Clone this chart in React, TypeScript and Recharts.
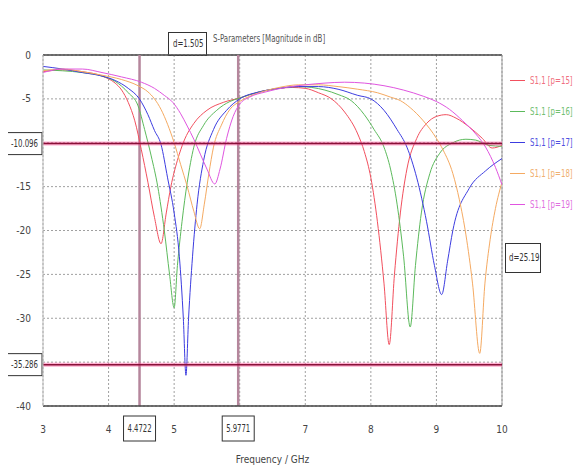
import React from 'react';
import { LineChart, Line, XAxis, YAxis, CartesianGrid, ReferenceLine } from 'recharts';

// frequency (GHz) / magnitude (dB) per sweep value
const redFreq = [3.0, 3.3, 3.6, 3.9, 4.1, 4.2, 4.3, 4.4, 4.5, 4.6, 4.7, 4.8, 4.88, 4.95, 5.05, 5.15, 5.3, 5.5, 5.75, 6.0, 6.3, 6.6, 6.8, 7.0, 7.2, 7.4, 7.6, 7.8, 7.9, 8.0, 8.1, 8.2, 8.28, 8.36, 8.45, 8.55, 8.7, 8.85, 9.0, 9.15, 9.3, 9.5, 9.7, 9.85, 10.0];
const redDb = [-1.9, -1.7, -1.9, -2.4, -3.2, -4.0, -5.4, -7.5, -10.8, -14.5, -18.5, -21.5, -18, -15, -12, -9.8, -7.8, -6.3, -5.4, -4.9, -4.2, -3.8, -3.7, -3.8, -4.3, -5.0, -6.5, -9.0, -11, -14, -19, -26, -33, -25, -18, -13, -9.5, -7.8, -7.0, -6.8, -7.2, -8.2, -9.5, -10.6, -10.3];

const greenFreq = [3.0, 3.3, 3.6, 3.9, 4.1, 4.3, 4.45, 4.55, 4.65, 4.75, 4.85, 4.93, 5.0, 5.05, 5.12, 5.2, 5.3, 5.45, 5.65, 5.85, 6.0, 6.3, 6.6, 6.9, 7.1, 7.3, 7.5, 7.7, 7.9, 8.05, 8.2, 8.3, 8.4, 8.5, 8.6, 8.68, 8.77, 8.9, 9.05, 9.25, 9.45, 9.6, 9.8, 10.0];
const greenDb = [-1.7, -1.8, -2.0, -2.4, -3.0, -4.3, -5.8, -8.5, -11.5, -15, -20, -25, -28.8, -24, -19, -14.5, -10.5, -8, -6.3, -5.3, -4.9, -4.2, -3.8, -3.6, -3.7, -4.0, -4.5, -5.2, -6.8, -8.5, -10.5, -13, -17, -23, -31, -24, -18, -13.5, -11.2, -10.0, -9.6, -9.7, -10.3, -10.4];

const blueFreq = [3.0, 3.3, 3.6, 3.9, 4.1, 4.3, 4.47, 4.6, 4.7, 4.8, 4.9, 5.0, 5.08, 5.14, 5.18, 5.22, 5.28, 5.35, 5.45, 5.6, 5.8, 6.0, 6.3, 6.6, 6.9, 7.2, 7.5, 7.8, 8.0, 8.2, 8.4, 8.55, 8.7, 8.85, 8.97, 9.08, 9.17, 9.25, 9.5, 9.75, 10.0];
const blueDb = [-1.3, -1.6, -2.0, -2.4, -2.9, -3.8, -5.0, -6.8, -8.6, -10.2, -14, -18, -23, -30, -36.5, -30, -23, -17, -12, -8.5, -6.3, -5.0, -4.2, -3.8, -3.6, -3.6, -3.9, -4.6, -5.0, -6.3, -8.5, -10.5, -14, -19, -24, -27.3, -23.5, -20, -15.2, -13.2, -11.8];

const orangeFreq = [3.0, 3.3, 3.6, 3.9, 4.2, 4.45, 4.6, 4.7, 4.8, 4.9, 5.0, 5.1, 5.2, 5.3, 5.39, 5.46, 5.53, 5.6, 5.72, 5.85, 6.0, 6.3, 6.6, 6.9, 7.2, 7.5, 7.8, 8.1, 8.3, 8.45, 8.6, 8.8, 9.0, 9.1, 9.25, 9.35, 9.45, 9.55, 9.66, 9.74, 9.82, 9.9, 10.0];
const orangeDb = [-1.8, -1.6, -1.9, -2.3, -2.8, -3.5, -4.2, -5.0, -6.2, -7.9, -10.0, -12.5, -15, -17.8, -19.8, -17, -13.5, -10.5, -8.0, -6.2, -5.3, -4.3, -3.7, -3.4, -3.4, -3.6, -3.9, -4.3, -4.8, -5.2, -6, -7.5, -9.5, -10.8, -13.5, -16.5, -20.5, -26, -34, -26, -21, -17.5, -14.5];

const magentaFreq = [3.0, 3.3, 3.6, 3.9, 4.2, 4.5, 4.7, 4.85, 4.98, 5.1, 5.2, 5.3, 5.4, 5.5, 5.62, 5.7, 5.8, 5.9, 6.0, 6.15, 6.4, 6.7, 7.0, 7.3, 7.6, 7.9, 8.2, 8.5, 8.8, 9.0, 9.2, 9.4, 9.6, 9.75, 9.9, 10.0];
const magentaDb = [-2.0, -1.6, -1.6, -2.0, -2.5, -3.1, -3.8, -4.6, -5.4, -6.7, -8.1, -9.6, -11.3, -13.0, -14.7, -13.0, -9.5, -7.0, -5.6, -4.8, -4.2, -3.7, -3.4, -3.2, -3.1, -3.2, -3.5, -4.0, -4.7, -5.3, -6.2, -7.5, -9.0, -10.5, -12.8, -14.8];

const seriesNames = ['S1,1 [p=15]', 'S1,1 [p=16]', 'S1,1 [p=17]', 'S1,1 [p=18]', 'S1,1 [p=19]'];
const seriesColors = ['#f2505e', '#5cba5c', '#3c3ce0', '#f5aa62', '#e055e0'];
const legendText = ['#f07080', '#70c070', '#5050e0', '#f0b070', '#e070e0'];

const xTicks = [3, 4, 5, 6, 7, 8, 9, 10];
const yTicks = [0, -5, -10, -15, -20, -25, -30, -35, -40];
const markerFreqs = [4.4722, 5.9771];
const markerLevels = [-10.096, -35.286];

const FONT = "'Liberation Sans Narrow', 'DejaVu Sans Condensed', 'Liberation Sans', sans-serif";

const freqs = [redFreq, greenFreq, blueFreq, orangeFreq, magentaFreq];
const dbs = [redDb, greenDb, blueDb, orangeDb, magentaDb];
const series = freqs.map((fs, i) => fs.map((f, j) => ({ f, db: dbs[i][j] })));

const LevelBox = (props: any) => {
  const { viewBox, value } = props;
  if (!viewBox) return null;
  const x = viewBox.x - 36;
  const y = viewBox.y;
  return (
    <g>
      <rect x={x} y={y - 11} width={35} height={22} fill="#fff" stroke="#333" strokeWidth={1} />
      <text x={x + 4} y={y + 3.5} fontSize={10} fontFamily={FONT} fill="#333" textLength={27} lengthAdjust="spacingAndGlyphs">{value}</text>
    </g>
  );
};

const FreqBox = (props: any) => {
  const { viewBox, value } = props;
  if (!viewBox) return null;
  const cx = viewBox.x;
  const top = viewBox.y + viewBox.height + 10;
  return (
    <g>
      <rect x={cx - 16} y={top} width={32} height={25} fill="#fff" stroke="#333" strokeWidth={1} />
      <text x={cx - 12} y={top + 16} fontSize={10} fontFamily={FONT} fill="#333" textLength={24} lengthAdjust="spacingAndGlyphs">{value}</text>
    </g>
  );
};

const narrow: React.CSSProperties = { display: 'inline-block', transform: 'scaleX(0.78)', transformOrigin: 'left center', whiteSpace: 'nowrap' };

const App = () => {
  return (
    <div style={{ position: 'relative', width: 575, height: 459, fontFamily: FONT }}>
      <div style={{ position: 'absolute', left: -8, top: -4, width: 583, borderTop: '2px solid #bbb' }} />
      <div style={{ position: 'absolute', left: 205, top: 25, fontSize: 10, color: '#555', whiteSpace: 'nowrap' }}>
        <span style={narrow}>S-Parameters [Magnitude in dB]</span>
      </div>
      <div style={{ position: 'absolute', left: 160, top: 24, width: 37, height: 22, border: '1px solid #333', fontSize: 10, color: '#333', lineHeight: '22px', background: '#fff', overflow: 'hidden' }}>
        <span style={{ ...narrow, marginLeft: 4 }}>d=1.505</span>
      </div>
      <div style={{ position: 'absolute', left: 497, top: 235, width: 34, height: 28, border: '1px solid #333', fontSize: 10, color: '#333', lineHeight: '28px', background: '#fff', overflow: 'hidden' }}>
        <span style={{ ...narrow, marginLeft: 3 }}>d=25.19</span>
      </div>
      <div style={{ position: 'absolute', left: 502, top: 57, width: 75 }}>
        {seriesNames.map((name, i) => (
          <div key={name} style={{ display: 'flex', alignItems: 'center', height: 31, fontSize: 10, color: legendText[i], whiteSpace: 'nowrap' }}>
            <span style={{ display: 'inline-block', width: 16, borderTop: `1.5px solid ${seriesColors[i]}`, marginRight: 5 }} />
            <span style={narrow}>{name}</span>
          </div>
        ))}
      </div>
      <LineChart width={575} height={459} margin={{ top: 47, right: 81, bottom: 0, left: 0 }}>
        <CartesianGrid strokeDasharray="2 2" stroke="#a0a0a0" />
        <XAxis
          dataKey="f"
          type="number"
          domain={[3, 10]}
          ticks={xTicks}
          allowDataOverflow
          tickFormatter={(v: number) => (v === 6 ? '' : String(v))}
          tick={{ fontSize: 10, fill: '#444', fontFamily: FONT }}
          tickLine={false}
          axisLine={{ stroke: '#444', strokeWidth: 1.5 }}
          tickMargin={14}
          height={61}
          label={{ value: 'Frequency / GHz', position: 'insideBottom', offset: 4, fontSize: 10, fill: '#444', fontFamily: FONT }}
        />
        <YAxis
          type="number"
          domain={[-40, 0]}
          ticks={yTicks}
          allowDataOverflow
          tickFormatter={(v: number) => (v === -10 || v === -35 ? '' : String(v))}
          tick={{ fontSize: 10, fill: '#444', fontFamily: FONT }}
          tickLine={false}
          axisLine={{ stroke: '#bbb' }}
          tickMargin={6}
          width={35}
        />
        <ReferenceLine y={0} stroke="#444" strokeWidth={1.5} />
        <ReferenceLine x={10} stroke="#999" strokeWidth={1} />
        {markerFreqs.map((f) => (
          <ReferenceLine key={f} x={f} stroke="#b5869c" strokeWidth={2.5} label={<FreqBox value={f.toFixed(4)} />} />
        ))}
        {series.map((data, i) => (
          <Line
            key={seriesNames[i]}
            data={data}
            dataKey="db"
            name={seriesNames[i]}
            type="monotone"
            stroke={seriesColors[i]}
            strokeWidth={1}
            dot={false}
            isAnimationActive={false}
          />
        ))}
        {markerLevels.map((l) => (
          <ReferenceLine key={`g${l}`} y={l} stroke="#ff4d9a" strokeOpacity={0.45} strokeWidth={4} />
        ))}
        {markerLevels.map((l) => (
          <ReferenceLine key={l} y={l} stroke="#8a1038" strokeWidth={1.5} label={<LevelBox value={l.toFixed(3)} />} />
        ))}
      </LineChart>
    </div>
  );
};

export default App;
